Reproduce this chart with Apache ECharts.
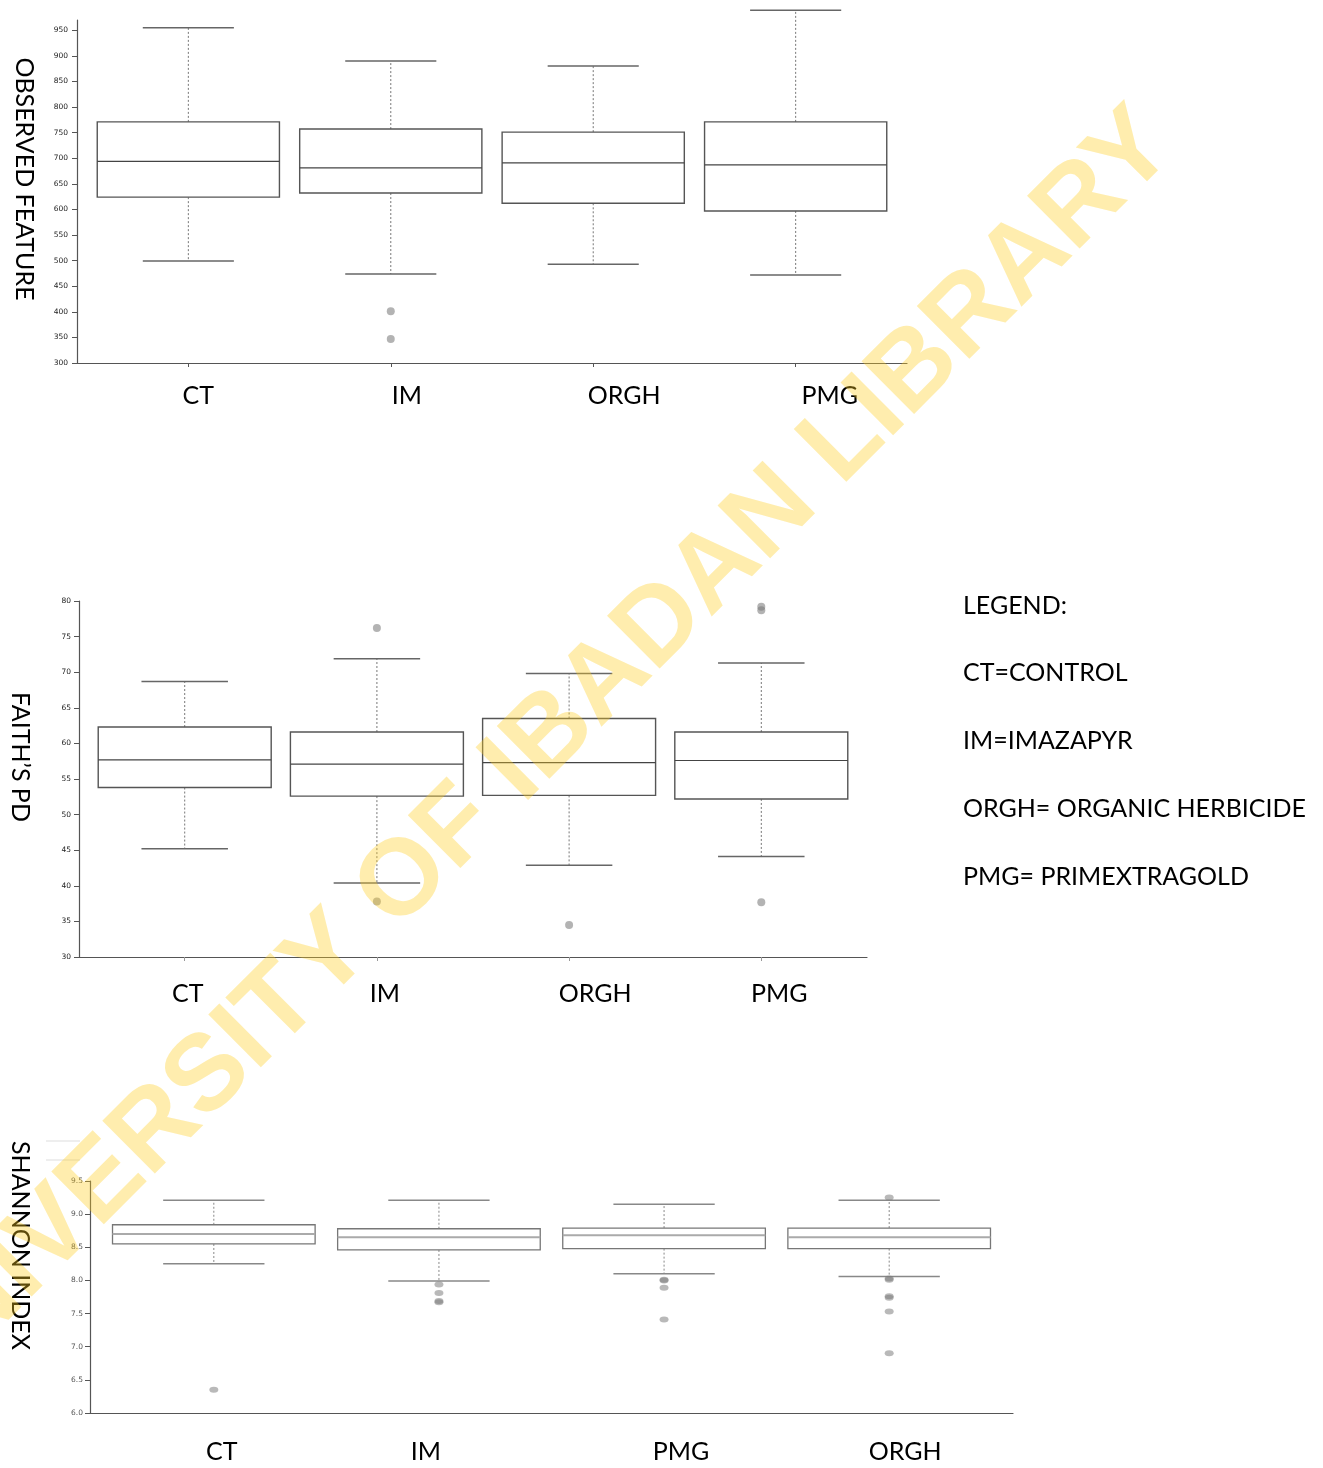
<!DOCTYPE html>
<html><head><meta charset="utf-8">
<script src="https://cdn.jsdelivr.net/npm/echarts@6/dist/echarts.min.js"></script>
<style>html,body{margin:0;padding:0;background:#fff}#c{width:1323px;height:1468px}</style>
</head><body><div id="c"></div>
<script>
// ---------- DATA ----------
// box values: [min whisker, Q1, median, Q3, max whisker]
const obsCategories = ['CT', 'IM', 'ORGH', 'PMG'];
const obsBoxes = [
  [499, 624, 694, 771, 955],
  [474, 632, 681, 757, 890],
  [493, 612, 691, 751, 880],
  [472, 597, 687, 771, 989]
];
const obsOutliers = [['IM', 401], ['IM', 347]];
const obsTicks = [300, 350, 400, 450, 500, 550, 600, 650, 700, 750, 800, 850, 900, 950];

const faithCategories = ['CT', 'IM', 'ORGH', 'PMG'];
const faithBoxes = [
  [45.2, 53.8, 57.7, 62.3, 68.7],
  [40.4, 52.6, 57.1, 61.6, 71.9],
  [42.9, 52.7, 57.3, 63.5, 69.8],
  [44.1, 52.2, 57.6, 61.6, 71.3]
];
const faithOutliers = [['IM', 76.2], ['IM', 37.8], ['ORGH', 34.5], ['PMG', 79.2], ['PMG', 78.7], ['PMG', 37.7]];
const faithTicks = [30, 35, 40, 45, 50, 55, 60, 65, 70, 75, 80];

const shannonCategories = ['CT', 'IM', 'PMG', 'ORGH'];
const shannonBoxes = [
  [8.25, 8.55, 8.70, 8.84, 9.21],
  [7.99, 8.46, 8.65, 8.78, 9.21],
  [8.10, 8.48, 8.68, 8.79, 9.15],
  [8.06, 8.48, 8.65, 8.79, 9.21]
];
const shannonOutliers = [
  ['CT', 6.35],
  ['IM', 7.94], ['IM', 7.81], ['IM', 7.69], ['IM', 7.67],
  ['PMG', 8.01], ['PMG', 8.00], ['PMG', 7.89], ['PMG', 7.41],
  ['ORGH', 9.25], ['ORGH', 8.03], ['ORGH', 8.01], ['ORGH', 7.76], ['ORGH', 7.74], ['ORGH', 7.53], ['ORGH', 6.90]
];
const shannonTicks = [6.0, 6.5, 7.0, 7.5, 8.0, 8.5, 9.0, 9.5];

const legendLines = ['LEGEND:', 'CT=CONTROL', 'IM=IMAZAPYR', 'ORGH= ORGANIC HERBICIDE', 'PMG= PRIMEXTRAGOLD'];
const watermarkText = 'UNIVERSITY OF IBADAN LIBRARY';

// ---------- RENDERING ----------
const chart = echarts.init(document.getElementById('c'), null, { renderer: 'canvas' });

function boxRenderer(st) {
  return function (params, api) {
    const x = api.value(0);
    const lo = api.coord([x, api.value(1)]);
    const q1 = api.coord([x, api.value(2)]);
    const md = api.coord([x, api.value(3)]);
    const q3 = api.coord([x, api.value(4)]);
    const hi = api.coord([x, api.value(5)]);
    const band = api.size([1, 0])[0];
    const hw = band * 0.9 / 2;
    const cw = hw / 2;
    const cx = md[0];
    return {
      type: 'group',
      children: [
        { type: 'line', shape: { x1: cx, y1: q3[1], x2: cx, y2: hi[1] }, style: { stroke: st.whisker, lineWidth: 1, lineDash: [2, 2] } },
        { type: 'line', shape: { x1: cx, y1: q1[1], x2: cx, y2: lo[1] }, style: { stroke: st.whisker, lineWidth: 1, lineDash: [2, 2] } },
        { type: 'line', shape: { x1: cx - cw, y1: hi[1], x2: cx + cw, y2: hi[1] }, style: { stroke: st.cap, lineWidth: st.capW } },
        { type: 'line', shape: { x1: cx - cw, y1: lo[1], x2: cx + cw, y2: lo[1] }, style: { stroke: st.cap, lineWidth: st.capW } },
        { type: 'rect', shape: { x: cx - hw, y: q3[1], width: hw * 2, height: q1[1] - q3[1] }, style: { fill: '#fff', stroke: st.box, lineWidth: st.boxW } },
        { type: 'line', shape: { x1: cx - hw, y1: md[1], x2: cx + hw, y2: md[1] }, style: { stroke: st.median, lineWidth: st.medW } }
      ]
    };
  };
}

function richFor(shifts) {
  const r = {};
  shifts.forEach((s, i) => {
    r['p' + i] = {
      fontFamily: 'Lato', fontSize: 25, color: '#000', lineHeight: 26,
      padding: s >= 0 ? [0, 0, 0, 2 * s] : [0, -2 * s, 0, 0]
    };
  });
  return r;
}

// category positions on a numeric axis: index 0..3, axis spans -0.55 .. 3.55
function xAxisCfg(gridIndex, cats, shifts, margin, tickLen, tickColor) {
  const idx = cats.map((c, i) => i);
  return {
    type: 'value', gridIndex: gridIndex, min: -0.55, max: 3.55,
    axisLine: { show: true, onZero: false, lineStyle: { color: '#555', width: 1.2 } },
    axisTick: { show: tickLen > 0, length: tickLen, customValues: idx, lineStyle: { color: tickColor } },
    axisLabel: {
      margin: margin, customValues: idx,
      formatter: v => '{p' + Math.round(v) + '|' + cats[Math.round(v)] + '}',
      rich: richFor(shifts)
    },
    splitLine: { show: false }
  };
}

function yAxisCfg(o) {
  return {
    type: 'value', gridIndex: o.grid, min: o.min, max: o.max,
    name: o.name, nameLocation: 'middle', nameGap: o.nameGap, nameRotate: -90,
    nameTextStyle: { fontFamily: 'Lato', fontSize: 25, color: '#000', padding: [0, o.namePad, 0, 0] },
    axisLine: { show: true, onZero: false, lineStyle: { color: '#555', width: 1.2 } },
    axisTick: { show: true, length: 5, customValues: o.ticks, lineStyle: { color: '#555' } },
    axisLabel: {
      customValues: o.ticks, fontSize: 7.5, fontFamily: 'DejaVu Sans', color: o.labelColor, margin: o.labelMargin,
      formatter: o.fmt
    },
    splitLine: { show: false }
  };
}

const darkStyle = { whisker: '#777', cap: '#666', capW: 1.5, box: '#555', boxW: 1.4, median: '#444', medW: 1.2 };
const lightStyle = { whisker: '#888', cap: '#888', capW: 1.5, box: '#777', boxW: 1.3, median: '#aaa', medW: 2 };

function boxData(boxes) { return boxes.map((b, i) => [i].concat(b)); }
function outlierData(cats, outs) { return outs.map(o => [cats.indexOf(o[0]), o[1]]); }

const option = {
  animation: false,
  backgroundColor: '#fff',
  grid: [
    { left: 77, top: 20, width: 830, height: 343 },
    { left: 76, top: 601, width: 791, height: 356 },
    { left: 87, top: 1181, width: 926, height: 232 }
  ],
  xAxis: [
    xAxisCfg(0, obsCategories, [10, 16, 31, 34], 20, 4, '#555'),
    xAxisCfg(1, faithCategories, [3, 8, 26, 18], 24, 4, '#999'),
    xAxisCfg(2, shannonCategories, [8, -13, 17, 16], 26, 0, '#999')
  ],
  yAxis: [
    yAxisCfg({ grid: 0, min: 300, max: 970, name: 'OBSERVED FEATURE', nameGap: 40, namePad: 25, ticks: obsTicks, labelColor: '#222', labelMargin: 9, fmt: v => String(v) }),
    yAxisCfg({ grid: 1, min: 30, max: 80, name: 'FAITH\u2019S PD', nameGap: 46, namePad: 44, ticks: faithTicks, labelColor: '#222', labelMargin: 8, fmt: v => String(v) }),
    yAxisCfg({ grid: 2, min: 6, max: 9.5, name: 'SHANNON INDEX', nameGap: 57, namePad: 103, ticks: shannonTicks, labelColor: '#555', labelMargin: 7, fmt: v => Number(v).toFixed(1) })
  ],
  series: [
    { type: 'custom', xAxisIndex: 0, yAxisIndex: 0, renderItem: boxRenderer(darkStyle), encode: { x: 0, y: [1, 2, 3, 4, 5] }, data: boxData(obsBoxes), z: 2 },
    { type: 'scatter', xAxisIndex: 0, yAxisIndex: 0, data: outlierData(obsCategories, obsOutliers), symbolSize: 8, itemStyle: { color: 'rgba(120,120,120,0.7)' }, z: 3 },
    { type: 'custom', xAxisIndex: 1, yAxisIndex: 1, renderItem: boxRenderer(darkStyle), encode: { x: 0, y: [1, 2, 3, 4, 5] }, data: boxData(faithBoxes), z: 2 },
    { type: 'scatter', xAxisIndex: 1, yAxisIndex: 1, data: outlierData(faithCategories, faithOutliers), symbolSize: 8, itemStyle: { color: 'rgba(120,120,120,0.7)' }, z: 3 },
    { type: 'custom', xAxisIndex: 2, yAxisIndex: 2, renderItem: boxRenderer(lightStyle), encode: { x: 0, y: [1, 2, 3, 4, 5] }, data: boxData(shannonBoxes), z: 2 },
    { type: 'scatter', xAxisIndex: 2, yAxisIndex: 2, data: outlierData(shannonCategories, shannonOutliers), symbolSize: [9, 6], itemStyle: { color: 'rgba(120,120,120,0.65)' }, z: 3 }
  ],
  graphic: [].concat(
    legendLines.map((t, i) => ({
      type: 'text', left: 963, top: 593 + i * 67.8,
      style: { text: t, fill: '#000', font: '25px Lato' }
    })),
    [
      { type: 'line', shape: { x1: 46, y1: 1141, x2: 80, y2: 1141 }, style: { stroke: '#ddd', lineWidth: 1 } },
      { type: 'line', shape: { x1: 46, y1: 1160, x2: 80, y2: 1160 }, style: { stroke: '#ddd', lineWidth: 1 } },
      {
        type: 'text', x: 526, y: 760, rotation: Math.PI / 4, z: 100, silent: true,
        style: {
          text: watermarkText, fill: 'rgba(255,205,30,0.36)', font: 'bold 108px "Liberation Sans", Arial, sans-serif',
          align: 'center', verticalAlign: 'middle', textAlign: 'center', textVerticalAlign: 'middle'
        }
      }
    ]
  )
};
chart.setOption(option);
</script>
</body></html>
